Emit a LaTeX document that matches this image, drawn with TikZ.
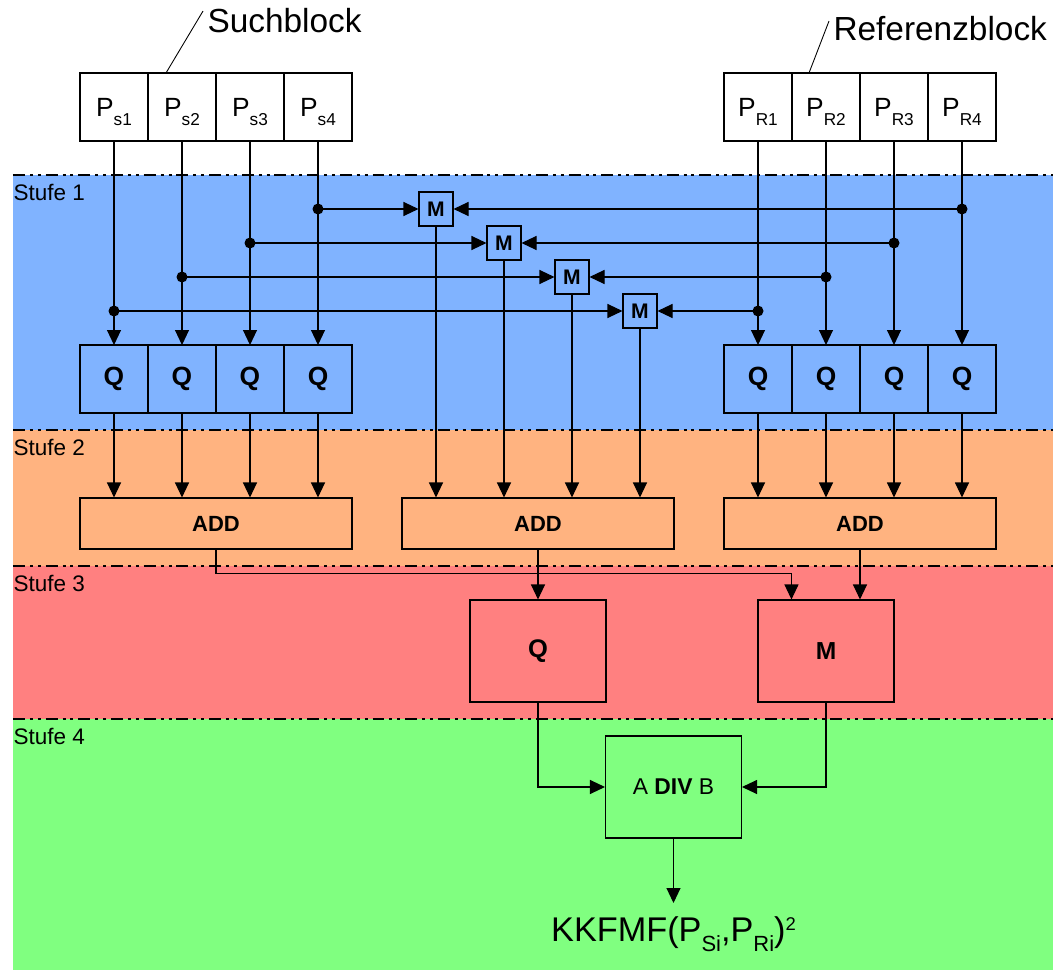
\documentclass[tikz,border=0pt]{standalone}
\usepackage{fontspec}
\setmainfont{Liberation Sans}
\usepackage{xcolor}
\usepackage{tikz}
\usetikzlibrary{arrows.meta,positioning,calc}

\definecolor{stufeeins}{RGB}{128,179,255}
\definecolor{stufezwei}{RGB}{255,179,128}
\definecolor{stufedrei}{RGB}{255,128,128}
\definecolor{stufevier}{RGB}{128,255,128}

\newcommand{\Pidx}[1]{P\raisebox{-5.4pt}[0pt][0pt]{\fontsize{9.8}{11}\selectfont #1}}

\begin{document}
\begin{tikzpicture}[
  cell/.style={draw, minimum width=1.36cm, minimum height=1.36cm, inner sep=0pt,
               outer sep=0pt, font=\fontsize{15}{17}\selectfont},
  qcell/.style={cell, font=\fontsize{15}{17}\selectfont\bfseries},
  mini/.style={draw, minimum size=0.68cm, inner sep=0pt,
               font=\fontsize{12}{14}\selectfont\bfseries},
  addbox/.style={draw, minimum width=5.44cm, minimum height=1.02cm, inner sep=0pt,
                 font=\fontsize{12.5}{14}\selectfont\bfseries},
  bigbox/.style={draw, minimum width=2.72cm, minimum height=2.04cm, inner sep=0pt,
                 font=\fontsize{14}{16}\selectfont\bfseries},
  stufe/.style={anchor=base west, inner sep=0pt, font=\fontsize{12.8}{15}\selectfont},
  titel/.style={anchor=base west, inner sep=0pt, font=\fontsize{19}{23}\selectfont},
  grenze/.style={line width=0.6pt,
                 dash pattern=on 6.8pt off 2.8pt on 1.7pt off 2.8pt on 1.7pt off 2.8pt},
  >={Triangle[length=0.3cm,width=0.28cm]}, line width=0.6pt
]
  \useasboundingbox (0,0) rectangle (21.06,-19.4);

  % Stufen
  \fill[stufeeins] (0.26,-3.5) rectangle (21.06,-8.6);
  \fill[stufezwei] (0.26,-8.6) rectangle (21.06,-11.32);
  \fill[stufedrei] (0.26,-11.32) rectangle (21.06,-14.38);
  \fill[stufevier] (0.26,-14.38) rectangle (21.06,-19.4);
  \draw[grenze] (0.26,-3.5) -- (21.06,-3.5);
  \draw[grenze] (0.26,-8.6) -- (21.06,-8.6);
  \draw[grenze] (0.26,-11.32) -- (21.06,-11.32);
  \draw[grenze] (0.26,-14.38) -- (21.06,-14.38);
  \node[stufe] (st1) at (0.26,-4.01) {Stufe 1};
  \node[stufe] (st2) at (0.26,-9.1) {Stufe 2};
  \node[stufe] (st3) at (0.26,-11.82) {Stufe 3};
  \node[stufe] (st4) at (0.26,-14.88) {Stufe 4};

  % Suchblock / Referenzblock
  \node[cell, fill=white] (ps1) at (2.28,-2.14) {\Pidx{s1}};
  \node[cell, fill=white, right=0pt of ps1] (ps2) {\Pidx{s2}};
  \node[cell, fill=white, right=0pt of ps2] (ps3) {\Pidx{s3}};
  \node[cell, fill=white, right=0pt of ps3] (ps4) {\Pidx{s4}};
  \node[cell, fill=white] (pr1) at (15.16,-2.14) {\Pidx{R1}};
  \node[cell, fill=white, right=0pt of pr1] (pr2) {\Pidx{R2}};
  \node[cell, fill=white, right=0pt of pr2] (pr3) {\Pidx{R3}};
  \node[cell, fill=white, right=0pt of pr3] (pr4) {\Pidx{R4}};
  \node[titel] (such) at (4.14,-0.66) {Suchblock};
  \node[titel] (ref) at (16.66,-0.82) {Referenzblock};
  \draw[line width=0.5pt] ($(such.west)+(-0.08,0.2)$) -- ($(ps2.north west)+(0.36,0)$);
  \draw[line width=0.5pt] ($(ref.west)+(-0.08,0.16)$) -- ($(pr2.north west)+(0.34,0)$);

  % Stufe 1
  \node[mini] (m1) at (8.72,-4.18) {M};
  \node[mini] (m2) at (10.08,-4.86) {M};
  \node[mini] (m3) at (11.44,-5.54) {M};
  \node[mini] (m4) at (12.8,-6.22) {M};
  \node[qcell] (qs1) at (2.28,-7.58) {Q};
  \node[qcell, right=0pt of qs1] (qs2) {Q};
  \node[qcell, right=0pt of qs2] (qs3) {Q};
  \node[qcell, right=0pt of qs3] (qs4) {Q};
  \node[qcell] (qr1) at (15.16,-7.58) {Q};
  \node[qcell, right=0pt of qr1] (qr2) {Q};
  \node[qcell, right=0pt of qr2] (qr3) {Q};
  \node[qcell, right=0pt of qr3] (qr4) {Q};

  \draw[->] (ps1) -- (qs1);
  \draw[->] (ps2) -- (qs2);
  \draw[->] (ps3) -- (qs3);
  \draw[->] (ps4) -- (qs4);
  \draw[->] (pr1) -- (qr1);
  \draw[->] (pr2) -- (qr2);
  \draw[->] (pr3) -- (qr3);
  \draw[->] (pr4) -- (qr4);

  \draw[->] (ps4 |- m1) -- (m1);
  \draw[->] (pr4 |- m1) -- (m1);
  \draw[->] (ps3 |- m2) -- (m2);
  \draw[->] (pr3 |- m2) -- (m2);
  \draw[->] (ps2 |- m3) -- (m3);
  \draw[->] (pr2 |- m3) -- (m3);
  \draw[->] (ps1 |- m4) -- (m4);
  \draw[->] (pr1 |- m4) -- (m4);
  \fill (ps4 |- m1) circle (0.11cm);
  \fill (pr4 |- m1) circle (0.11cm);
  \fill (ps3 |- m2) circle (0.11cm);
  \fill (pr3 |- m2) circle (0.11cm);
  \fill (ps2 |- m3) circle (0.11cm);
  \fill (pr2 |- m3) circle (0.11cm);
  \fill (ps1 |- m4) circle (0.11cm);
  \fill (pr1 |- m4) circle (0.11cm);

  % Stufe 2
  \node[addbox] (adds) at (4.32,-10.47) {ADD};
  \node[addbox] (addm) at (10.76,-10.47) {ADD};
  \node[addbox] (addr) at (17.2,-10.47) {ADD};

  \draw[->] (qs1) -- (qs1 |- adds.north);
  \draw[->] (qs2) -- (qs2 |- adds.north);
  \draw[->] (qs3) -- (qs3 |- adds.north);
  \draw[->] (qs4) -- (qs4 |- adds.north);
  \draw[->] (m1) -- (m1 |- addm.north);
  \draw[->] (m2) -- (m2 |- addm.north);
  \draw[->] (m3) -- (m3 |- addm.north);
  \draw[->] (m4) -- (m4 |- addm.north);
  \draw[->] (qr1) -- (qr1 |- addr.north);
  \draw[->] (qr2) -- (qr2 |- addr.north);
  \draw[->] (qr3) -- (qr3 |- addr.north);
  \draw[->] (qr4) -- (qr4 |- addr.north);

  % Stufe 3
  \node[bigbox, font=\fontsize{14.5}{16}\selectfont\bfseries] (qbox) at (10.76,-13.02) {Q};
  \node[bigbox] (mbox) at (16.52,-13.02) {M};
  \coordinate (knick) at ($(mbox.north west)+(0.68,0.52)$);

  \draw[->] (addm) -- (qbox);
  \draw[->] (adds) -- (adds |- knick) -- (knick) -- (knick |- mbox.north);
  \draw[->] (addr) -- (addr |- mbox.north);

  % Stufe 4
  \node[bigbox, font=\fontsize{13}{15}\selectfont] (div) at (13.47,-15.74)
    {A \textbf{DIV} B};
  \node[anchor=north, inner xsep=0pt, inner ysep=0.27cm, font=\fontsize{19.5}{23}\selectfont]
    (kkfmf) at (13.47,-18.06)
    {KKFMF(P\raisebox{-5.4pt}{\fontsize{12.5}{14}\selectfont Si},P\raisebox{-5.4pt}{\fontsize{12.5}{14}\selectfont Ri})\raisebox{6.6pt}{\fontsize{10.5}{12}\selectfont 2}};

  \draw[->] (qbox) |- (div);
  \draw[->] (mbox) |- (div);
  \draw[->] (div) -- (kkfmf);
\end{tikzpicture}
\end{document}
